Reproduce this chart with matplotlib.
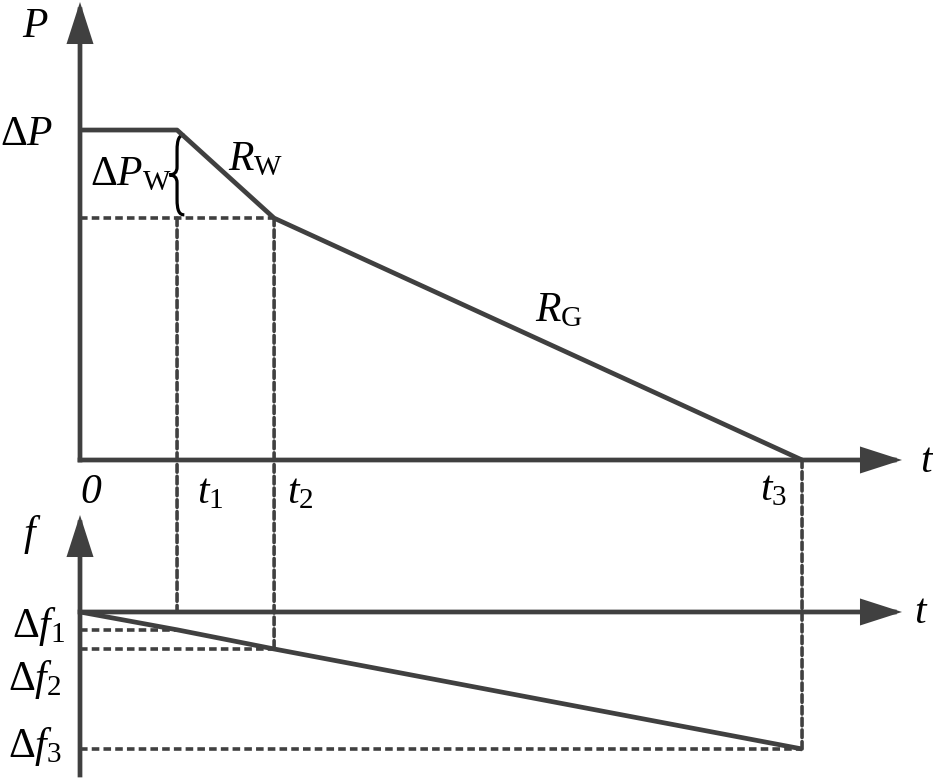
import matplotlib.pyplot as plt
from matplotlib.patches import ConnectionPatch, PathPatch
from matplotlib.path import Path

plt.rcParams['mathtext.fontset'] = 'custom'
plt.rcParams['mathtext.rm'] = 'Liberation Serif'
plt.rcParams['mathtext.it'] = 'Liberation Serif:italic'
plt.rcParams['mathtext.bf'] = 'Liberation Serif:bold'
plt.rcParams['font.family'] = ['Liberation Serif', 'DejaVu Serif']

# time marks t1, t2, t3 and the end of the time axis
t_marks = [1.0, 2.0, 7.44]
t_end = 8.47
# power step and the part of it taken by the wind units
delta_p = 1.0
delta_p_w = 0.267
p_top = 1.388
# frequency deviation reached at t1, t2, t3
delta_f = [-0.13, -0.27, -1.0]
f_top = 0.708
f_bottom = -1.19

t_curve = [0.0] + t_marks
p_curve = [delta_p, delta_p, delta_p - delta_p_w, 0.0]
f_curve = [0.0] + delta_f

GREY = '#404040'
W, H = 933, 778
DASH_STYLE = (0, (2.1, 1.15))
SOLID = dict(color=GREY, lw=3.4, clip_on=False, solid_capstyle='butt')
DASH = dict(color=GREY, lw=2.6, linestyle=DASH_STYLE, clip_on=False)

fig = plt.figure(figsize=(W / 100, H / 100), dpi=100)
# pixel layout of the two panels
x0, x1 = 80, 902
ax_p = fig.add_axes([x0 / W, (H - 460) / H, (x1 - x0) / W, (460 - 2) / H])
ax_f = fig.add_axes([x0 / W, (H - 775) / H, (x1 - x0) / W, (775 - 515) / H])
ax_p.set_xlim(0, t_end)
ax_p.set_ylim(0, p_top)
ax_f.set_xlim(0, t_end)
ax_f.set_ylim(f_bottom, f_top)
for ax in (ax_p, ax_f):
    ax.set_axis_off()


def arrow(ax, start, end):
    ax.annotate('', xy=end, xytext=start, annotation_clip=False,
                arrowprops=dict(arrowstyle='-|>,head_length=1.15,head_width=0.37',
                                mutation_scale=20, lw=3.4, color=GREY,
                                shrinkA=0, shrinkB=0, capstyle='projecting',
                                joinstyle='miter'))


def link(xy_a, xy_b):
    fig.add_artist(ConnectionPatch(xyA=xy_a, coordsA=ax_p.transData,
                                   xyB=xy_b, coordsB=ax_f.transData,
                                   color=GREY, lw=2.6, linestyle=DASH_STYLE))


t1, t2, t3 = t_marks
p_w = delta_p - delta_p_w

# dashed guides
ax_p.plot([0, t2], [p_w, p_w], **DASH)
for t, f in zip(t_marks, delta_f):
    ax_f.plot([0, t], [f, f], **DASH)
link((t1, p_w), (t1, 0))
link((t2, p_w), (t2, delta_f[1]))
link((t3, 0), (t3, delta_f[2]))

# curves
ax_p.plot(t_curve, p_curve, **SOLID)
ax_f.plot(t_curve, f_curve, **SOLID)

# axes with arrow heads
arrow(ax_p, (0, 0), (t_end, 0))
arrow(ax_p, (0, 0), (0, p_top))
arrow(ax_f, (0, 0), (t_end, 0))
arrow(ax_f, (0, f_bottom), (0, f_top))

# brace marking delta P_W
y1 = delta_p - 0.015
y0 = p_w + 0.01
yc = (y0 + y1) / 2
h = y1 - y0
xr, xm, xc = t1 + 0.075, t1, t1 - 0.08
verts = [(xr, y1),
         (xm + 0.3 * (xr - xm), y1), (xm, y1 - 0.05 * h), (xm, y1 - 0.2 * h),
         (xm, yc + 0.1 * h),
         (xm, yc + 0.03 * h), (xm - 0.4 * (xm - xc), yc), (xc, yc),
         (xm - 0.4 * (xm - xc), yc), (xm, yc - 0.03 * h), (xm, yc - 0.1 * h),
         (xm, y0 + 0.2 * h),
         (xm, y0 + 0.05 * h), (xm + 0.3 * (xr - xm), y0), (xr, y0)]
codes = ([Path.MOVETO] + [Path.CURVE4] * 3 + [Path.LINETO] + [Path.CURVE4] * 6
         + [Path.LINETO] + [Path.CURVE4] * 3)
ax_p.add_patch(PathPatch(Path(verts, codes), fill=False, lw=2.3,
                         color='black', clip_on=False))


def label(x, y, s, size=30, **kw):
    fig.text(x / W, 1 - y / H, s, fontsize=size, ha='left', va='baseline', **kw)


label(22, 37, r'$P$')
label(0, 145, r'$\Delta P$')
label(90, 185, r'$\Delta P_{\mathrm{W}}$')
label(228, 170, r'$R_{\mathrm{W}}$')
label(535, 321, r'$R_{\mathrm{G}}$')
label(920, 472, r'$t$')
label(80, 503, '0', style='italic')
label(197, 503, r'$t_{1}$')
label(287, 503, r'$t_{2}$')
label(760, 500, r'$t_{3}$')
label(23, 545, r'$f$')
label(914, 623, r'$t$')
label(12, 637, r'$\Delta f_{1}$')
label(8, 690, r'$\Delta f_{2}$')
label(8, 757, r'$\Delta f_{3}$')

fig.savefig('out.png', dpi=100)
